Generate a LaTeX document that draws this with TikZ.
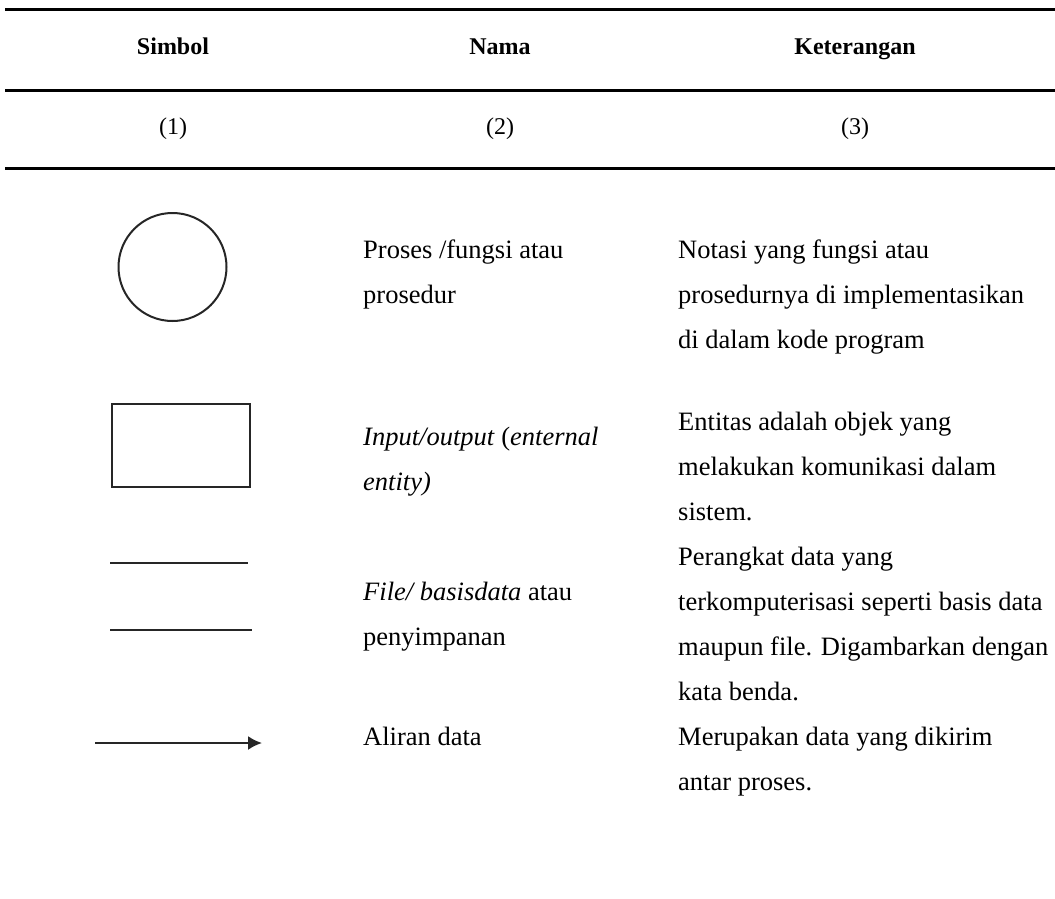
\documentclass[tikz,border=0pt]{standalone}
\usepackage{fontspec}
\setmainfont{Liberation Serif}
\usetikzlibrary{arrows.meta}
\tikzset{
  rule/.style={line width=3pt, black},
  sym/.style={line width=2pt, black!85},
  head/.style={anchor=base, inner sep=0pt, font=\fontsize{24}{28}\selectfont\bfseries},
  num/.style={anchor=base, inner sep=0pt, font=\fontsize{24}{28}\selectfont},
  txt/.style={anchor=base west, inner sep=0pt, font=\fontsize{26.5}{45}\selectfont}
}
\begin{document}
\begin{tikzpicture}[x=1pt,y=-1pt]
\useasboundingbox (0,0) rectangle (1055,899);

% table rules
\coordinate (r1a) at (5,10);  \coordinate (r1b) at (1055,10);
\coordinate (r2a) at (5,90);  \coordinate (r2b) at (1055,90);
\coordinate (r3a) at (5,168); \coordinate (r3b) at (1055,168);
\draw[rule] (r1a) -- (r1b);
\draw[rule] (r2a) -- (r2b);
\draw[rule] (r3a) -- (r3b);

% header row
\node[head] (hsym) at (173,55) {Simbol};
\node[head] (hnam) at (500,55) {Nama};
\node[head] (hket) at (855,55) {Keterangan};

% column numbers
\node[num] (c1) at (173,134) {(1)};
\node[num] (c2) at (500,134) {(2)};
\node[num] (c3) at (855,134) {(3)};

% symbols
\node[sym, draw, circle, minimum size=108pt, inner sep=0pt] (proc) at (172.5,267) {};
\node[sym, draw, rectangle, minimum width=138pt, minimum height=83pt, inner sep=0pt] (ent) at (181,445.5) {};
\coordinate (s1a) at (110,563); \coordinate (s1b) at (248,563);
\coordinate (s2a) at (110,630); \coordinate (s2b) at (252,630);
\draw[sym] (s1a) -- (s1b);
\draw[sym] (s2a) -- (s2b);
\coordinate (fa) at (95,743); \coordinate (fb) at (262,743);
\draw[sym, -{Latex[length=14pt,width=14pt]}] (fa) -- (fb);

% Nama column
\node[txt] (n1) at (363,258) {Proses /fungsi atau};
\node[txt] (n2) at (363,303) {prosedur};
\node[txt] (n3) at (363,445) {\textit{Input/output} (\textit{enternal}};
\node[txt] (n4) at (363,490) {\textit{entity)}};
\node[txt] (n5) at (363,600) {\textit{File/ basisdata} atau};
\node[txt] (n6) at (363,645) {penyimpanan};
\node[txt] (n7) at (363,745) {Aliran data};

% Keterangan column
\node[txt] (k1)  at (678,258) {Notasi yang fungsi atau};
\node[txt] (k2)  at (678,303) {prosedurnya di implementasikan};
\node[txt] (k3)  at (678,348) {di dalam kode program};
\node[txt] (k4)  at (678,430) {Entitas adalah objek yang};
\node[txt] (k5)  at (678,475) {melakukan komunikasi dalam};
\node[txt] (k6)  at (678,520) {sistem.};
\node[txt] (k7)  at (678,565) {Perangkat data yang};
\node[txt] (k8)  at (678,610) {terkomputerisasi seperti basis data};
\node[txt] (k9)  at (678,655) {maupun file. Digambarkan dengan};
\node[txt] (k10) at (678,700) {kata benda.};
\node[txt] (k11) at (678,745) {Merupakan data yang dikirim};
\node[txt] (k12) at (678,790) {antar proses.};
\end{tikzpicture}
\end{document}
